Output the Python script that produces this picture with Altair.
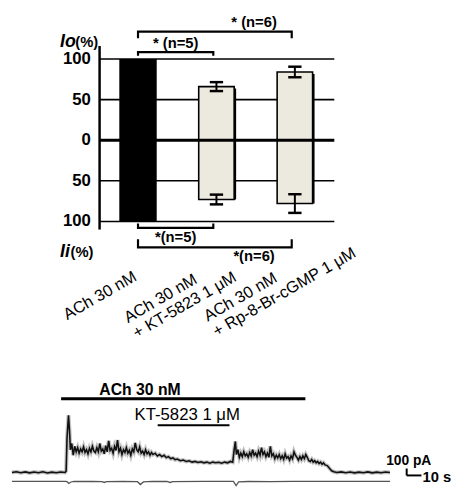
import altair as alt
import pandas as pd

# ---------------- data ----------------
groups = ["ACh 30 nM", "ACh 30 nM + KT-5823 1 μM", "ACh 30 nM + Rp-8-Br-cGMP 1 μM"]
group_idx = [0, 1, 2]
io_mean = [100, 66, 84]      # outward current Io (%)
io_err = [0, 5.5, 6.5]
ii_mean = [100, 73, 78]      # inward current Ii (%)
ii_err = [0, 6, 11.5]
grid_values = [100, 50, -50, -100]
tick_values = [100, 50, 0, -50, -100]
sig_top = [(0, 1, "* (n=5)"), (0, 2, "* (n=6)")]
sig_bottom = [(0, 1, "*(n=5)"), (0, 2, "*(n=6)")]

# current trace (time s, current pA)
trace_t = [0, 3, 6, 9, 12, 15, 18, 21, 24, 27, 30, 33, 36, 36.7, 37.3, 38.3, 39.0, 39.6, 40.5, 41.5,
           42.5, 43.5, 44.5, 45.5, 46.5, 47.5, 48.5, 49.5, 50.5, 51.5, 52.5, 53.5, 54.5, 55.5, 56.5,
           57.5, 58.5, 59.5, 60.5, 61.5, 62.5, 63.5, 64.5, 65.5, 66.5, 67.5, 68.5, 69.5, 70.5, 71.5,
           72.5, 73.5, 74.5, 75.5, 76.5, 77.5, 78.5, 79.5, 80.5, 81.5, 82.5, 83.5, 84.5, 85.5, 86.5,
           87.5, 88.5, 89.5, 90.5, 91.5, 92.5, 93.5, 94.5, 95.5, 97, 98.5, 100, 101.5, 103, 104.5,
           106, 107.5, 109, 110.5, 112, 114, 116, 118, 120, 122, 124, 126, 128, 130, 132, 134, 136,
           138, 140, 142, 144, 146, 148, 149.5, 150.5, 151.3, 152, 153, 154, 155, 156, 157, 158, 159,
           160, 161, 162, 163, 164, 165, 166, 167, 168, 169, 170, 171, 172, 173, 174, 175, 176, 177,
           178, 179, 180, 181, 182, 183, 184, 185, 186, 187, 188, 189, 190, 191, 192, 193, 194, 195,
           196, 197, 198, 199, 200, 201, 202, 203, 204, 205, 206, 207, 208, 209, 210, 211, 212, 213.5,
           215, 216.5, 218, 220, 223, 226, 229, 232, 235, 238, 241, 244, 247, 250, 253, 256]
trace_i = [0, 10, -5, 8, -6, 6, -4, 9, -7, 5, -3, 7, 0, 20, 500, 830, 600, 330, 420, 250,
           380, 300, 360, 280, 340, 300, 370, 290, 330, 270, 350, 300, 380, 310, 290,
           360, 300, 420, 310, 340, 270, 390, 300, 460, 320, 350, 280, 380, 320, 470,
           300, 350, 260, 330, 290, 360, 280, 320, 250, 340, 300, 430, 330, 300, 370,
           280, 310, 260, 330, 270, 300, 250, 290, 260, 280, 240, 260, 230, 250, 215,
           230, 200, 210, 185, 195, 170, 180, 160, 170, 150, 160, 145, 155, 140, 150, 135, 150,
           140, 148, 135, 150, 140, 160, 150, 330, 450, 260, 330, 220, 280, 230, 300, 240, 270,
           220, 290, 240, 330, 250, 280, 230, 310, 250, 360, 260, 300, 230, 280, 220, 380, 240, 270,
           200, 250, 210, 260, 200, 240, 190, 270, 210, 230, 180, 240, 200, 300, 250, 220, 180, 230,
           190, 240, 200, 260, 220, 170, 160, 190, 150, 170, 140, 160, 130, 150, 120, 140, 110, 100,
           60, 25, 10, 0, 8, -5, 7, -6, 5, -4, 8, -6, 5, -3, 6, 0]
low_t = [0, 36.5, 37.5, 38.5, 40, 42, 55, 61, 62.5, 64, 75, 85, 87, 89, 95, 105, 107, 109, 130,
         150, 151.8, 153.5, 160, 175, 190, 256]
low_i = [-129, -129, -135, -160, -138, -130, -131, -134, -145, -132, -130, -134, -175, -138, -130,
         -131, -145, -132, -129, -130, -190, -138, -131, -133, -130, -129]

# ---------------- scales ----------------
XB = alt.Scale(domain=[-1.595, 3.853], nice=False, zero=False)
YB = alt.Scale(domain=[-424.85, 158.18], nice=False, zero=False)
XT = alt.Scale(domain=[-2.667, 293.33], nice=False, zero=False)
YT = alt.Scale(domain=[-185.7, 6685.0], nice=False, zero=False)
FONT = "Liberation Sans"


def xb(v):
    return alt.XDatum(v, type="quantitative", scale=XB, axis=None)


def yb(v):
    return alt.YDatum(v, type="quantitative", scale=YB, axis=None)


def xt(v):
    return alt.XDatum(v, type="quantitative", scale=XT, axis=None)


def yt(v):
    return alt.YDatum(v, type="quantitative", scale=YT, axis=None)


def btext(x, y, text, **kw):
    return alt.Chart().mark_text(text=text, font=FONT, color="black", **kw).encode(x=xb(x), y=yb(y))


def ttext(x, y, text, **kw):
    return alt.Chart().mark_text(text=text, font=FONT, color="black", **kw).encode(x=xt(x), y=yt(y))


bars = pd.DataFrame({"idx": group_idx, "group": groups, "io": io_mean, "io_err": io_err,
                     "ii": ii_mean, "ii_err": ii_err})
bars["neg_ii"] = -bars["ii"]
gridf = pd.DataFrame({"v": grid_values})
axisf = pd.DataFrame({"v": tick_values})

AX_X = -0.49
LABEL_X = -0.601
GRID_END = 2.503

# y tick labels
tick_labels = alt.Chart(axisf).transform_calculate(lab="abs(datum.v)").mark_text(
    font=FONT, fontWeight="bold", fontSize=17, color="black", align="right", baseline="middle").encode(
    x=xb(LABEL_X), y=alt.Y("v:Q", scale=YB, axis=None), text="lab:N")

grid = alt.Chart(gridf).mark_rule(color="black", strokeWidth=1.6).encode(
    x=xb(AX_X), x2=alt.X2Datum(GRID_END), y=alt.Y("v:Q", scale=YB, axis=None))
zero_line = alt.Chart().mark_rule(color="black", strokeWidth=3).encode(
    x=xb(AX_X), x2=alt.X2Datum(GRID_END), y=yb(0))
y_axis_line = alt.Chart().mark_rule(color="black", strokeWidth=2.5).encode(
    x=xb(AX_X), y=yb(-110), y2=alt.Y2Datum(116))

base = alt.Chart(bars)
black_bar = base.transform_filter("datum.idx == 0").mark_bar(color="black", size=38).encode(
    x=alt.X("idx:Q", scale=XB, axis=None), y=alt.Y("io:Q", scale=YB, axis=None), y2="neg_ii:Q")
shadow = base.transform_filter("datum.idx > 0").mark_bar(color="black", size=36, xOffset=2, yOffset=2).encode(
    x=alt.X("idx:Q", scale=XB, axis=None), y=alt.Y("io:Q", scale=YB, axis=None), y2="neg_ii:Q")
light_bars = base.transform_filter("datum.idx > 0").mark_bar(
    fill="#ECEADF", stroke="black", strokeWidth=1.6, size=36).encode(
    x=alt.X("idx:Q", scale=XB, axis=None), y=alt.Y("io:Q", scale=YB, axis=None), y2="neg_ii:Q")

err = base.transform_filter("datum.idx > 0").transform_calculate(
    io_lo="datum.io - datum.io_err", io_hi="datum.io + datum.io_err",
    ii_lo="-datum.ii - datum.ii_err", ii_hi="-datum.ii + datum.ii_err",
    xl="datum.idx - 0.085", xr="datum.idx + 0.085")
err_layers = []
for lo_f, hi_f in [("io_lo", "io_hi"), ("ii_lo", "ii_hi")]:
    err_layers.append(err.mark_rule(color="black", strokeWidth=2).encode(
        x=alt.X("idx:Q", scale=XB, axis=None), y=alt.Y(f"{lo_f}:Q", scale=YB, axis=None), y2=f"{hi_f}:Q"))
    for end in (lo_f, hi_f):
        err_layers.append(err.mark_rule(color="black", strokeWidth=2.5).encode(
            x=alt.X("xl:Q", scale=XB, axis=None), x2="xr:Q", y=alt.Y(f"{end}:Q", scale=YB, axis=None)))

# significance brackets
bracket_geo = {("top", 0): (108.5, 104.0, 119.4), ("top", 1): (133.6, 125.5, 146.0),
               ("bottom", 0): (-108.0, -102.4, -119.4), ("bottom", 1): (-131.9, -122.0, -143.0)}
rows, labels = [], []
for side, lst in (("top", sig_top), ("bottom", sig_bottom)):
    for k, (a, b, lab) in enumerate(lst):
        h, tick, ty = bracket_geo[(side, k)]
        bid = f"{side}{k}"
        bend = b - 0.04
        for o, (xx, yy) in enumerate([(a, tick), (a, h), (bend, h), (bend, tick)]):
            rows.append({"id": bid, "o": o, "x": xx, "y": yy})
        labels.append({"x": (a + bend) / 2 + (0.0 if b == 1 else 0.5), "y": ty, "label": lab})
brk = alt.Chart(pd.DataFrame(rows)).mark_line(color="black", strokeWidth=2.2, strokeJoin="miter").encode(
    x=alt.X("x:Q", scale=XB, axis=None), y=alt.Y("y:Q", scale=YB, axis=None), detail="id:N", order="o:Q")
brk_text = alt.Chart(pd.DataFrame(labels)).mark_text(font=FONT, fontWeight="bold", fontSize=15,
                                                     color="black", baseline="middle").encode(
    x=alt.X("x:Q", scale=XB, axis=None), y=alt.Y("y:Q", scale=YB, axis=None), text="label:N")

# y titles
titles = [
    btext(-0.994, 120.6, "Io", fontSize=18, fontWeight="bold", fontStyle="italic", align="left"),
    btext(-0.80, 120.6, "(%)", fontSize=15, fontWeight="bold", align="left"),
    btext(-0.994, -137.6, "Ii", fontSize=18, fontWeight="bold", fontStyle="italic", align="left"),
    btext(-0.86, -137.6, "(%)", fontSize=15, fontWeight="bold", align="left"),
]

# rotated category labels
xlab = [
    btext(-0.933, -216.4, ["ACh  30  nM"], fontSize=16.5, angle=330, align="left", lineHeight=18),
    btext(-0.160, -220.0, ["ACh  30  nM", "+ KT-5823  1 μM"], fontSize=16.5, angle=330, align="left",
          lineHeight=18),
    btext(0.859, -218.2, ["ACh  30  nM", "+ Rp-8-Br-cGMP  1 μM"], fontSize=16.5, angle=330,
          align="left", lineHeight=18),
]

bar_layer = alt.layer(grid, black_bar, shadow, light_bars, zero_line, *err_layers,
                      y_axis_line, tick_labels, brk, brk_text, *titles, *xlab)

# ---------------- trace ----------------
tr = pd.DataFrame({"t": trace_t, "i": trace_i})
lo = pd.DataFrame({"t": low_t, "i": low_i})
halo = alt.Chart(tr).mark_line(color="#777777", strokeWidth=4, opacity=0.45).encode(
    x=alt.X("t:Q", scale=XT, axis=None), y=alt.Y("i:Q", scale=YT, axis=None))
trace = alt.Chart(tr).mark_line(color="#111111", strokeWidth=1.6).encode(
    x=alt.X("t:Q", scale=XT, axis=None), y=alt.Y("i:Q", scale=YT, axis=None))
low = alt.Chart(lo).mark_line(color="#555555", strokeWidth=1.3).encode(
    x=alt.X("t:Q", scale=XT, axis=None), y=alt.Y("i:Q", scale=YT, axis=None))

ach_bar = alt.Chart().mark_rule(color="black", strokeWidth=3).encode(
    x=xt(33.3), x2=alt.X2Datum(198.7), y=yt(1071))
kt_bar = alt.Chart().mark_rule(color="black", strokeWidth=2).encode(
    x=xt(98.7), x2=alt.X2Datum(147.3), y=yt(686))
sb_v = alt.Chart().mark_rule(color="black", strokeWidth=2).encode(
    x=xt(267.3), y=yt(-43), y2=alt.Y2Datum(57))
sb_h = alt.Chart().mark_rule(color="black", strokeWidth=2).encode(
    x=xt(267.3), x2=alt.X2Datum(277.3), y=yt(-43))

trace_texts = [
    ttext(86.7, 1200, "ACh  30  nM", fontSize=16, fontWeight="bold", baseline="middle"),
    ttext(118.7, 829, "KT-5823  1 μM", fontSize=17, baseline="middle"),
    ttext(268.7, 171, "100 pA", fontSize=14, fontWeight="bold", baseline="middle"),
    ttext(278.0, -71, "10 s", fontSize=15, fontWeight="bold", baseline="middle", align="left"),
]

trace_layer = alt.layer(halo, trace, low, ach_bar, kt_bar, sb_v, sb_h, *trace_texts)

chart = alt.layer(bar_layer, trace_layer).resolve_scale(x="independent", y="independent").properties(
    width=444, height=481, autosize="none",
    padding={"left": 0, "top": 0, "right": 7, "bottom": 0}
).configure_view(stroke=None)

chart.save("out.html", embed_options={"renderer": "svg", "actions": False})
